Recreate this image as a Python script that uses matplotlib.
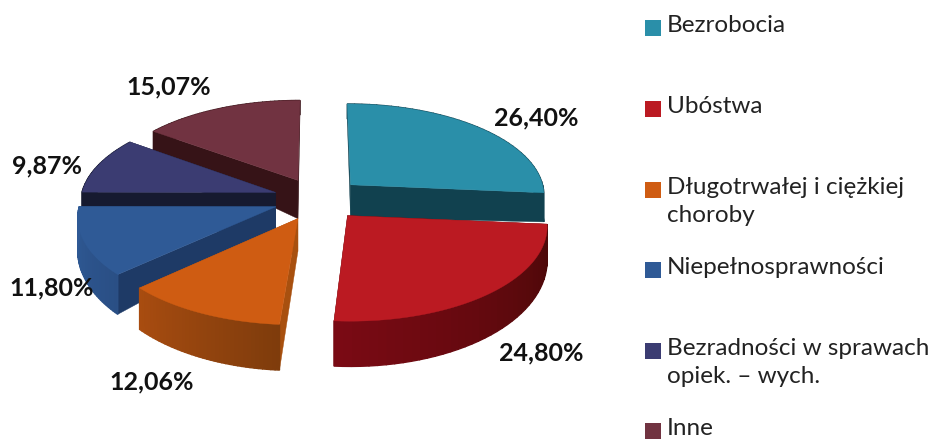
import numpy as np
import matplotlib
matplotlib.use('Agg')
import matplotlib.pyplot as plt
from matplotlib.colors import to_rgb
from matplotlib.patches import Polygon, Rectangle

categories = ['Bezrobocia', 'Ubóstwa', 'Długotrwałej i ciężkiej\nchoroby', 'Niepełnosprawności',
              'Bezradności w sprawach\nopiek. – wych.', 'Inne']
values = [26.40, 24.80, 12.06, 11.80, 9.87, 15.07]
value_labels = ['26,40%', '24,80%', '12,06%', '11,80%', '9,87%', '15,07%']

top_colors = ['#2a8fa9', '#bb1a22', '#cf5c12', '#2f5a96', '#3b3c72', '#713341']
cut_colors = ['#11414f', '#4a0808', '#a8500f', '#1e3a66', '#161a30', '#361317']
rim_left = ['#11414f', '#7a0a14', '#a84c10', '#2f5a96', '#161a30', '#361317']
rim_right = ['#11414f', '#4a0808', '#7f3c0c', '#2a4f85', '#161a30', '#361317']

# layout of the fake 3d pie, in pixels
cx, cy = 318, 199
rx, ry = 195, 93
explode = 0.23
apex_extra = [5, 0, 0, -9, 0, 11]
legend_y = [27, 108, 189, 269, 350, 430]
label_pos = [(536, 118), (541, 353), (152, 382), (52, 288), (47, 166), (169, 87)]
draw_order = [0, 5, 4, 3, 2, 1]


def project(X, Y):
    # flat perspective, front of the pie is bigger
    x = cx + rx * X * (1 - 0.10 * Y)
    y = cy - ry * Y * (1 - 0.10 * Y)
    return x, y


def depth(Y):
    return 30 - 13 * Y


def slice_points(a0, a1):
    # angles are clockwise from 12 o'clock
    mid = (a0 + a1) / 2
    ox = explode * np.sin(mid)
    oy = explode * np.cos(mid)
    t = np.linspace(a0, a1, 40)
    return ox, oy, ox + np.sin(t), oy + np.cos(t)


plt.rcParams['font.family'] = ['Lato', 'DejaVu Sans']
fig = plt.figure(figsize=(9.35, 4.4), dpi=100)
ax = fig.add_axes([0, 0, 1, 1])
ax.set_xlim(0, 935)
ax.set_ylim(440, 0)
ax.axis('off')

edges = np.radians(np.concatenate([[0], np.cumsum(values) / np.sum(values) * 360]))

for i in draw_order:
    ox, oy, X, Y = slice_points(edges[i], edges[i + 1])
    px, py = project(X, Y)
    ax_, ay = project(ox, oy)
    d = depth(Y)
    da = depth(oy) + apex_extra[i]

    # the two cut faces
    for k in [0, -1]:
        quad = [(ax_, ay), (px[k], py[k]), (px[k], py[k] + d[k]), (ax_, ay + da)]
        ax.add_patch(Polygon(quad, closed=True, fc=cut_colors[i], ec=cut_colors[i], lw=0.3))

    # outer rim in strips, colour runs over the arc
    c0 = np.array(to_rgb(rim_right[i]))
    c1 = np.array(to_rgb(rim_left[i]))
    for j in range(len(px) - 1):
        c = c0 + (c1 - c0) * j / (len(px) - 2)
        quad = [(px[j], py[j]), (px[j + 1], py[j + 1]),
                (px[j + 1], py[j + 1] + d[j + 1]), (px[j], py[j] + d[j])]
        ax.add_patch(Polygon(quad, closed=True, fc=c, ec=c, lw=1.0))

    top = [(ax_, ay)] + list(zip(px, py))
    ax.add_patch(Polygon(top, closed=True, fc=top_colors[i], ec=top_colors[i], lw=0.3))

for lab, pos in zip(value_labels, label_pos):
    ax.text(pos[0], pos[1], lab, fontsize=18, fontweight='bold', color='#111111',
            ha='center', va='center')

for name, color, y in zip(categories, top_colors, legend_y):
    ax.add_patch(Rectangle((645, y - 7), 16, 16, fc=color, ec='none'))
    ax.text(667, y - 12, name, fontsize=17.5, color='#222222', ha='left', va='top', linespacing=1.4)

fig.savefig('out.png', dpi=100)
